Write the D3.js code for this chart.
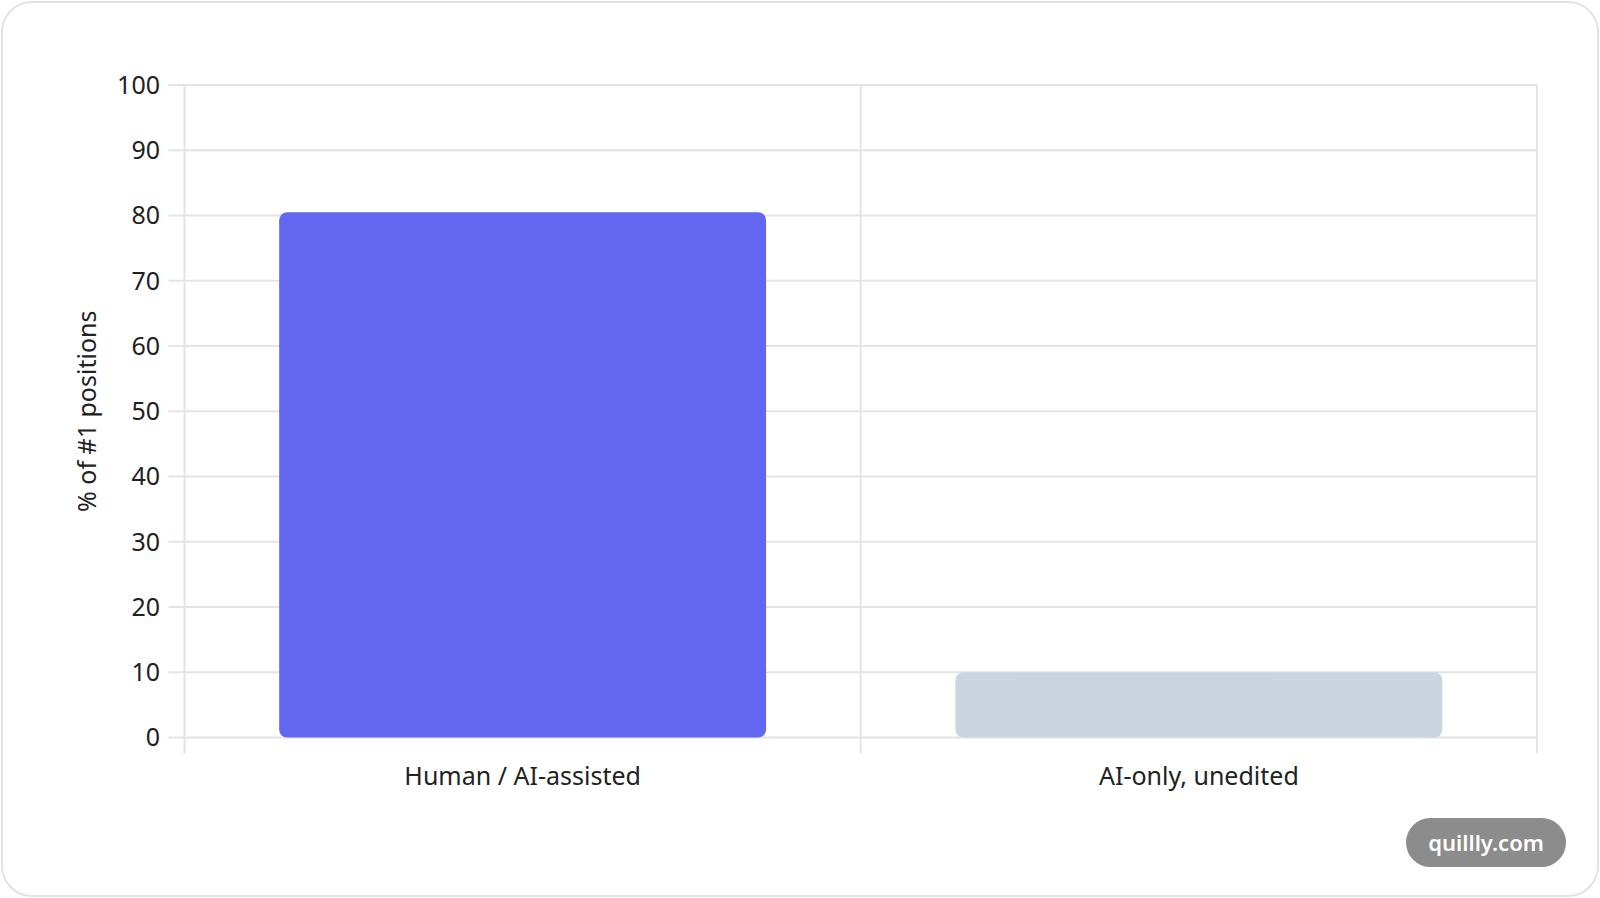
<!DOCTYPE html>
<html>
<head>
<meta charset="utf-8">
<script src="https://cdn.jsdelivr.net/npm/d3@7"></script>
<style>
  html, body { margin: 0; padding: 0; background: #fff; }
  #chart { width: 1600px; height: 898px; }
  text { font-family: "Noto Sans", "Open Sans", sans-serif; }
</style>
</head>
<body>
<div id="chart"></div>
<script>
// data
const categories = ["Human / AI-assisted", "AI-only, unedited"];
const values = [80.5, 10];
const barColors = ["#6366f1", "#cbd5e1"];
const yTicks = [0, 10, 20, 30, 40, 50, 60, 70, 80, 90, 100];
const yTitle = "% of #1 positions";
const watermark = "quillly.com";

/**
 * Draws the bar chart
 */
function BarChart(){
    let self = this;
    self.init();
};

BarChart.prototype.init = function(){
    let self = this;
    self.svgWidth = 1600;
    self.svgHeight = 898;
    self.plot = {left: 184.5, right: 1537, top: 85, bottom: 737.5};

    self.svg = d3.select("#chart").append("svg")
        .attr("width", self.svgWidth)
        .attr("height", self.svgHeight);

    // card outline
    self.svg.append("rect")
        .attr("x", 2).attr("y", 2)
        .attr("width", self.svgWidth - 4).attr("height", self.svgHeight - 4)
        .attr("rx", 30)
        .attr("fill", "#fff")
        .attr("stroke", "#e3e3e3")
        .attr("stroke-width", 2);

    self.x = d3.scaleBand()
        .domain(categories)
        .range([self.plot.left, self.plot.right]);

    self.y = d3.scaleLinear()
        .domain([0, 100])
        .range([self.plot.bottom, self.plot.top]);

    self.draw();
};

BarChart.prototype.draw = function(){
    let self = this;
    let p = self.plot;
    let grid = "#e4e4e4";

    // horizontal grid lines with tick stubs
    self.svg.append("g").selectAll("line")
        .data(yTicks)
        .join("line")
        .attr("x1", p.left - 16).attr("x2", p.right)
        .attr("y1", d => self.y(d)).attr("y2", d => self.y(d))
        .attr("stroke", grid).attr("stroke-width", 2);

    // vertical grid lines at category edges
    let edges = categories.map(c => self.x(c)).concat([p.right]);
    self.svg.append("g").selectAll("line")
        .data(edges)
        .join("line")
        .attr("x1", d => d).attr("x2", d => d)
        .attr("y1", p.top).attr("y2", p.bottom + 16)
        .attr("stroke", grid).attr("stroke-width", 2);

    // y tick labels
    self.svg.append("g").selectAll("text")
        .data(yTicks)
        .join("text")
        .attr("x", 160)
        .attr("y", d => self.y(d))
        .attr("dy", "0.35em")
        .attr("text-anchor", "end")
        .attr("font-size", 25)
        .attr("fill", "#222")
        .text(d => d);

    // bars: 0.8 category * 0.9 bar
    let bw = self.x.bandwidth() * 0.72;
    self.svg.append("g").selectAll("rect")
        .data(values)
        .join("rect")
        .attr("x", (d, i) => self.x(categories[i]) + (self.x.bandwidth() - bw) / 2)
        .attr("y", d => self.y(d))
        .attr("width", bw)
        .attr("height", d => self.y(0) - self.y(d))
        .attr("rx", 8)
        .attr("fill", (d, i) => barColors[i]);

    // x labels
    self.svg.append("g").selectAll("text")
        .data(categories)
        .join("text")
        .attr("x", d => self.x(d) + self.x.bandwidth() / 2)
        .attr("y", 776)
        .attr("dy", "0.35em")
        .attr("text-anchor", "middle")
        .attr("font-size", 25)
        .attr("fill", "#222")
        .text(d => d);

    // y axis title
    self.svg.append("text")
        .attr("transform", "translate(87," + ((p.top + p.bottom) / 2) + ") rotate(-90)")
        .attr("dy", "0.35em")
        .attr("text-anchor", "middle")
        .attr("font-size", 25)
        .attr("fill", "#222")
        .text(yTitle);

    // watermark pill
    let wm = self.svg.append("g").attr("transform", "translate(1406,818)");
    wm.append("rect")
        .attr("width", 160).attr("height", 49).attr("rx", 24.5)
        .attr("fill", "#8c8c8c");
    wm.append("text")
        .attr("x", 80).attr("y", 25)
        .attr("dy", "0.35em")
        .attr("text-anchor", "middle")
        .attr("font-size", 22)
        .attr("font-weight", 600)
        .attr("fill", "#fff")
        .text(watermark);
};

new BarChart();
</script>
</body>
</html>
